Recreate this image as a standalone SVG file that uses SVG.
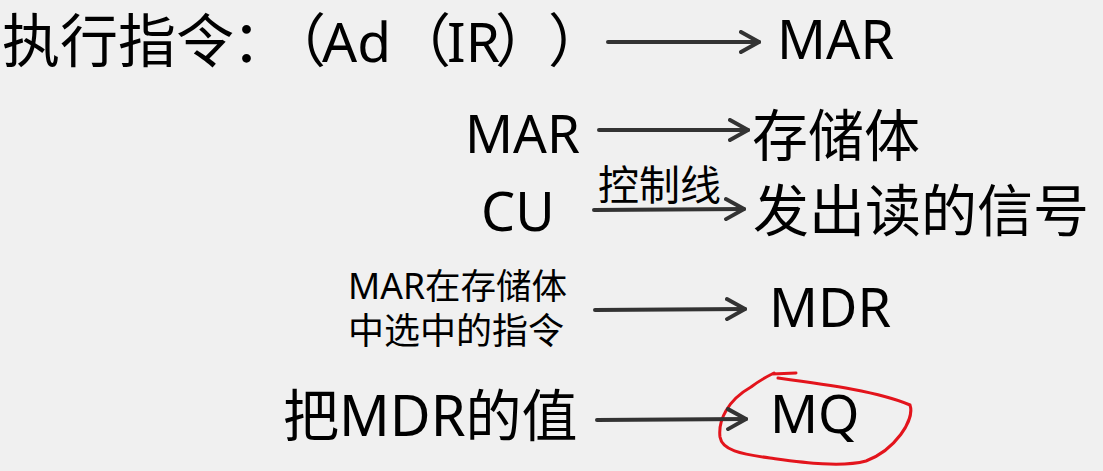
<svg xmlns="http://www.w3.org/2000/svg" width="1103" height="471" viewBox="0 0 1103 471">
<style>
.t{font-family:"Noto Sans","Noto Sans CJK SC",sans-serif;fill:#000;text-spacing-trim:space-all}
.a{stroke:#333;stroke-width:4;fill:none;stroke-linecap:round}
</style>
<defs>
<marker id="arr" viewBox="0 0 22 24" refX="20" refY="12" markerWidth="22" markerHeight="24" markerUnits="userSpaceOnUse" orient="auto">
<path d="M2,2 L20,12 L2,22" fill="none" stroke="#333" stroke-width="4" stroke-linecap="round" stroke-linejoin="round"/>
</marker>
</defs>
<rect width="1103" height="471" fill="#f0f0f0"/>
<g id="title"><text class="t" y="62" font-size="58"><tspan x="2">执行指令</tspan><tspan x="232">：</tspan><tspan x="268">（</tspan><tspan x="322" font-size="55">Ad</tspan><tspan x="393">（</tspan><tspan x="447" font-size="55">IR</tspan><tspan x="495">）</tspan><tspan x="548">）</tspan></text></g>
<g id="mar1"><text class="t" x="777" y="59" font-size="54">MAR</text></g>
<g id="mar2"><text class="t" x="465" y="153" font-size="53">MAR</text></g>
<g id="storage"><text class="t" x="752" y="156" font-size="56">存储体</text></g>
<g id="cu"><text class="t" x="481" y="231" font-size="54">CU</text></g>
<g id="signal"><text class="t" x="753" y="231" font-size="56">发出读的信号</text></g>
<g id="selected"><text class="t" x="348" y="299" font-size="35.5">MAR在存储体</text><text class="t" x="348" y="344" font-size="36">中选中的指令</text></g>
<g id="mdr"><text class="t" x="769" y="327" font-size="54">MDR</text></g>
<g id="value"><text class="t" x="283" y="436" font-size="56">把MDR的值</text></g>
<g id="mq"><text class="t" x="770" y="433" font-size="53">MQ</text>
<path d="M778,378 C830,385 880,392 910,405 C915,420 895,450 866,461 C840,468 800,462 770,458 C740,454 722,450 720,437 C718,420 728,400 751,387 C760,380 768,376 774,373 M772,374 L796,373" fill="none" stroke="#e3141c" stroke-width="3" stroke-linecap="round" stroke-linejoin="round"/></g>
<g id="connectors">
<line class="a" x1="608" y1="42" x2="759" y2="42" marker-end="url(#arr)"/>
<line class="a" x1="599" y1="130" x2="748" y2="130" marker-end="url(#arr)"/>
<line class="a" x1="594" y1="210" x2="744" y2="209" marker-end="url(#arr)"/>
<text class="t" x="598" y="200" font-size="41">控制线</text>
<line class="a" x1="595" y1="310" x2="745" y2="309" marker-end="url(#arr)"/>
<line class="a" x1="597" y1="420" x2="746" y2="419" marker-end="url(#arr)"/>
</g>
</svg>
